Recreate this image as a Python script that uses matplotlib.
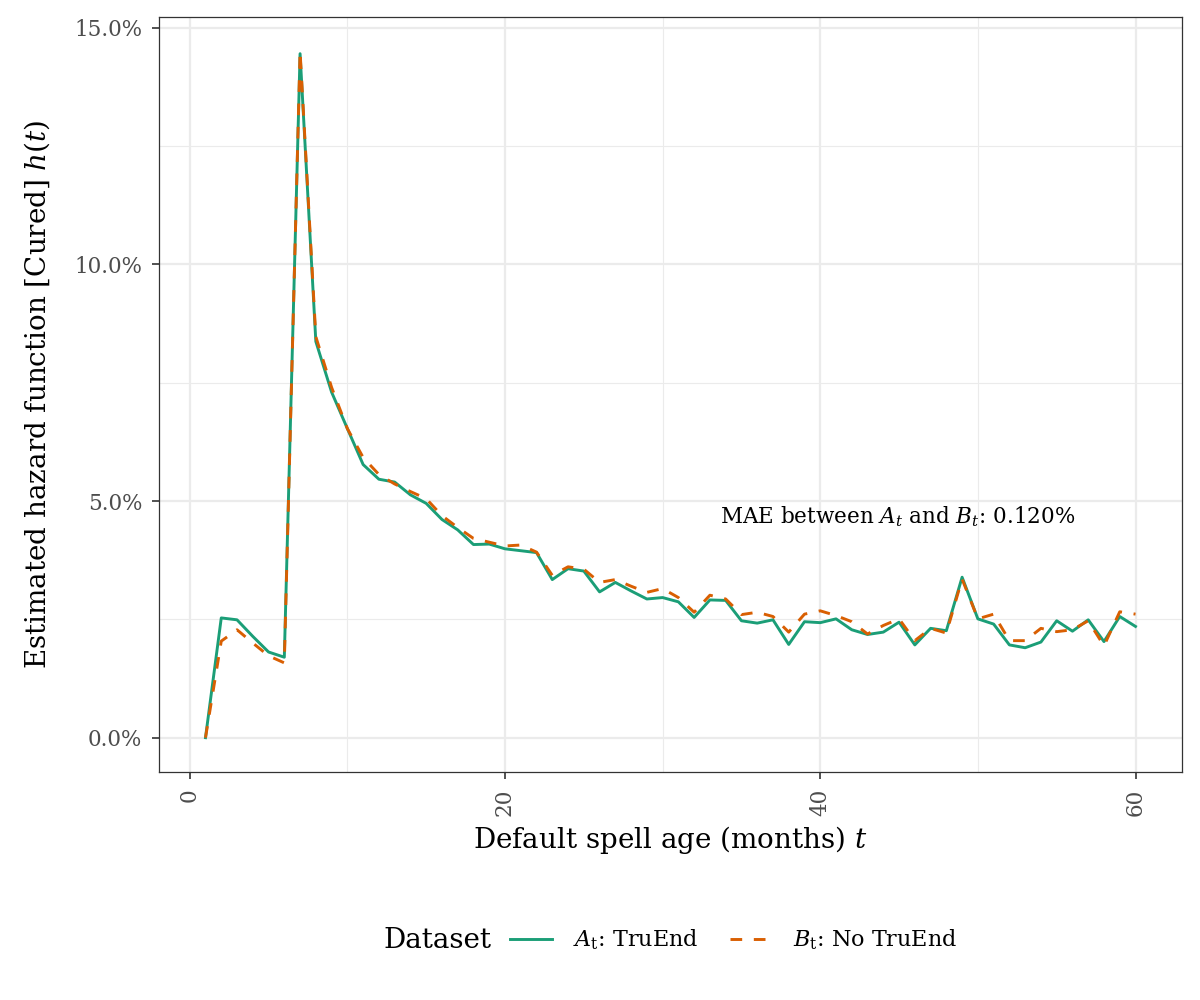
import matplotlib
matplotlib.use("Agg")
import matplotlib.pyplot as plt
from matplotlib.ticker import FuncFormatter, MultipleLocator
from matplotlib.lines import Line2D

# ---- data (hazard rate in %) ----
t = list(range(1, 61))
hazard_A = [0.00, 2.53, 2.49, 2.14, 1.81, 1.70, 14.45, 8.37, 7.30, 6.53,
            5.77, 5.46, 5.40, 5.13, 4.95, 4.61, 4.39, 4.08, 4.09, 3.99,
            3.95, 3.91, 3.34, 3.57, 3.52, 3.08, 3.28, 3.10, 2.93, 2.96,
            2.87, 2.54, 2.91, 2.90, 2.47, 2.42, 2.49, 1.97, 2.45, 2.43,
            2.51, 2.28, 2.18, 2.23, 2.44, 1.96, 2.31, 2.26, 3.39, 2.51,
            2.40, 1.96, 1.90, 2.02, 2.47, 2.25, 2.49, 2.03, 2.56, 2.35]
hazard_B = [0.00, 2.04, 2.28, 2.00, 1.73, 1.58, 14.50, 8.47, 7.40, 6.53,
            5.92, 5.56, 5.36, 5.20, 5.05, 4.69, 4.44, 4.21, 4.13, 4.05,
            4.07, 3.92, 3.43, 3.61, 3.56, 3.28, 3.34, 3.20, 3.07, 3.15,
            2.96, 2.65, 3.01, 2.93, 2.60, 2.65, 2.56, 2.23, 2.61, 2.68,
            2.58, 2.45, 2.19, 2.37, 2.51, 2.05, 2.31, 2.21, 3.35, 2.51,
            2.61, 2.05, 2.05, 2.31, 2.24, 2.28, 2.47, 1.94, 2.66, 2.61]
series_labels = [r"$A_{\mathrm{t}}$: TruEnd", r"$B_{\mathrm{t}}$: No TruEnd"]
legend_title = "Dataset"
mae_text = r"MAE between $A_t$ and $B_t$: 0.120%"

# ---- style ----
plt.rcParams['font.family'] = ['DejaVu Serif']
plt.rcParams['mathtext.fontset'] = 'dejavuserif'

green = "#1B9E77"
orange = "#D95F02"

fig = plt.figure(figsize=(12, 10), dpi=100)
ax = fig.add_axes([0.1325, 0.228, 0.8525, 0.755])

ax.plot(t, hazard_A, color=green, lw=2.1, zorder=3)
ax.plot(t, hazard_B, color=orange, lw=2.1, linestyle=(0, (4, 4)), zorder=4)

ax.set_xlim(-1.95, 62.95)
ax.set_ylim(-0.725, 15.225)
ax.xaxis.set_major_locator(MultipleLocator(20))
ax.xaxis.set_minor_locator(MultipleLocator(10))
ax.yaxis.set_major_locator(MultipleLocator(5))
ax.yaxis.set_minor_locator(MultipleLocator(2.5))
ax.yaxis.set_major_formatter(FuncFormatter(lambda v, p: f"{v:.1f}%"))

ax.grid(which='major', color="#EBEBEB", lw=1.6, zorder=0)
ax.grid(which='minor', color="#EBEBEB", lw=0.8, zorder=0)
ax.set_axisbelow(True)
for s in ax.spines.values():
    s.set_color("#333333")
    s.set_linewidth(0.9)

ax.tick_params(axis='both', which='major', labelsize=15.5, labelcolor="#4D4D4D",
               color="#333333", length=5, width=1.2, pad=7)
ax.tick_params(axis='both', which='minor', length=0)
ax.tick_params(axis='x', labelrotation=90)

ax.set_xlabel(r"Default spell age (months) $t$", fontsize=20)
ax.set_ylabel(r"Estimated hazard function [Cured] $h(t)$", fontsize=20)
ax.xaxis.set_label_coords(0.5, (772 - 840) / 755)
ax.xaxis.label.set_va('center')
ax.yaxis.set_label_coords((37 - 159) / 1023, 0.5)
ax.yaxis.label.set_va('center')

ax.text(44.9, 4.67, mae_text, fontsize=15.5, ha='center', va='center', color='black')

fig.text(383 / 1200, 0.06, legend_title, fontsize=20, ha='left', va='center')
handles = [Line2D([], [], color=green, lw=2.1),
           Line2D([], [], color=orange, lw=2.1, linestyle=(0, (4, 4)))]
leg = fig.legend(handles, series_labels, loc='center left',
                 bbox_to_anchor=(510 / 1200, 0.06), ncol=2, frameon=False,
                 fontsize=16, handlelength=1.9, columnspacing=1.4,
                 handletextpad=0.95, borderpad=0, borderaxespad=0)

fig.savefig("out.png", dpi=100)
